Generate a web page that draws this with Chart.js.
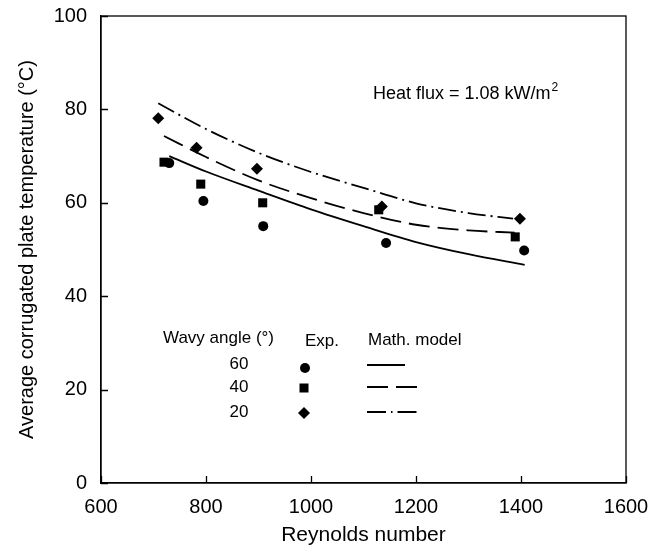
<!DOCTYPE html>
<html>
<head>
<meta charset="utf-8">
<script src="https://cdn.jsdelivr.net/npm/chart.js@4/dist/chart.umd.min.js"></script>
<style>
    html, body { margin: 0; padding: 0; background: #fff; }
    #wrap { width: 669px; height: 553px; }
</style>
</head>
<body>
<div id="wrap"><canvas id="chart" width="669" height="553"></canvas></div>
<script>
const reynolds60 = [730, 795, 909, 1143, 1406];
const temp60 = [68.5, 60.4, 55.0, 51.4, 49.8];
const reynolds40 = [720, 790, 908, 1129, 1389];
const temp40 = [68.7, 64.0, 60.0, 58.5, 52.7];
const reynolds20 = [709, 782, 897, 1135, 1398];
const temp20 = [78.1, 71.8, 67.3, 59.2, 56.6];

// Math. model curves
const modelRe60 = [730, 800, 900, 1000, 1100, 1200, 1300, 1407];
const model60 = [70.0, 66.7, 62.6, 58.6, 55.0, 51.6, 49.0, 46.7];
const modelRe40 = [720, 800, 900, 1000, 1100, 1200, 1300, 1388];
const model40 = [74.3, 69.8, 64.8, 61.0, 57.8, 55.3, 54.1, 53.6];
const modelRe20 = [709, 800, 900, 1000, 1100, 1200, 1300, 1385];
const model20 = [81.3, 75.8, 70.7, 66.6, 63.2, 59.9, 57.8, 56.6];

// Axis ticks
const xTicks = [600, 800, 1000, 1200, 1400, 1600];
const yTicks = [0, 20, 40, 60, 80, 100];

const FONT = '"Liberation Sans", Arial, sans-serif';

function toPoints(xs, ys) {
    return xs.map((x, i) => ({ x: x, y: ys[i] }));
}

function modelSet(xs, ys, dash) {
    return {
        type: 'line',
        data: toPoints(xs, ys),
        borderColor: '#000',
        borderWidth: 1.8,
        borderDash: dash,
        pointRadius: 0,
        cubicInterpolationMode: 'monotone',
        fill: false
    };
}

function expSet(xs, ys, style, radius) {
    return {
        type: 'scatter',
        data: toPoints(xs, ys),
        pointStyle: style,
        pointRadius: radius,
        pointBackgroundColor: '#000',
        pointBorderWidth: 0,
        showLine: false
    };
}

// Inward ticks, box frame and the text legend
const framePlugin = {
    id: 'frame',
    afterDraw(chart) {
        const ctx = chart.ctx;
        const a = chart.chartArea;
        const xs = chart.scales.x;
        const ys = chart.scales.y;
        ctx.save();
        ctx.strokeStyle = '#000';
        ctx.lineWidth = 1.3;
        ctx.strokeRect(a.left, a.top, a.right - a.left, a.bottom - a.top);
        ctx.beginPath();
        xTicks.forEach(v => {
            const px = Math.round(xs.getPixelForValue(v)) + 0.5;
            ctx.moveTo(px, a.bottom);
            ctx.lineTo(px, a.bottom - 7);
        });
        yTicks.forEach(v => {
            const py = Math.round(ys.getPixelForValue(v)) + 0.5;
            ctx.moveTo(a.left, py);
            ctx.lineTo(a.left + 7, py);
        });
        ctx.stroke();

        // Heat flux note
        ctx.fillStyle = '#000';
        ctx.textBaseline = 'alphabetic';
        ctx.textAlign = 'left';
        ctx.font = '18px ' + FONT;
        const note = 'Heat flux = 1.08 kW/m';
        ctx.fillText(note, 373, 99);
        const w = ctx.measureText(note).width;
        ctx.font = '12px ' + FONT;
        ctx.fillText('2', 373 + w + 1, 91);

        // Legend table
        ctx.font = '17px ' + FONT;
        ctx.fillText('Wavy angle (\u00B0)', 163, 343);
        ctx.fillText('Exp.', 305, 346);
        ctx.fillText('Math. model', 368, 345);
        ctx.textAlign = 'center';
        ctx.fillText('60', 239, 369);
        ctx.fillText('40', 239, 392);
        ctx.fillText('20', 239, 417);

        // legend markers
        ctx.beginPath();
        ctx.arc(305, 368, 5, 0, Math.PI * 2);
        ctx.fill();
        ctx.fillRect(299.5, 383.5, 9, 9);
        ctx.beginPath();
        ctx.moveTo(304, 407);
        ctx.lineTo(310, 413);
        ctx.lineTo(304, 419);
        ctx.lineTo(298, 413);
        ctx.closePath();
        ctx.fill();

        // legend line samples
        ctx.lineWidth = 1.8;
        const samples = [
            { y: 365, x2: 405, dash: [] },
            { y: 387, x2: 417, dash: [21, 8] },
            { y: 412, x2: 421, dash: [19, 5, 1.5, 5] }
        ];
        samples.forEach(s => {
            ctx.setLineDash(s.dash);
            ctx.beginPath();
            ctx.moveTo(367, s.y);
            ctx.lineTo(s.x2, s.y);
            ctx.stroke();
        });
        ctx.restore();
    }
};

new Chart(document.getElementById('chart').getContext('2d'), {
    data: {
        datasets: [
            modelSet(modelRe60, model60, []),
            modelSet(modelRe40, model40, [21, 8]),
            modelSet(modelRe20, model20, [18, 5, 2, 5]),
            expSet(reynolds60, temp60, 'circle', 5),
            expSet(reynolds40, temp40, 'rect', 6.4),
            expSet(reynolds20, temp20, 'rectRot', 6)
        ]
    },
    options: {
        responsive: false,
        animation: false,
        layout: { padding: { left: 0, top: 16, right: 43, bottom: 0 } },
        plugins: {
            legend: { display: false },
            tooltip: { enabled: false }
        },
        scales: {
            x: {
                type: 'linear',
                min: 600,
                max: 1600,
                afterBuildTicks: s => { s.ticks = xTicks.map(v => ({ value: v })); },
                afterFit: s => { s.height = 70; s.paddingLeft = 0; s.paddingRight = 0; },
                grid: { display: false, drawTicks: false },
                border: { display: true, color: '#000', width: 1.3 },
                ticks: {
                    color: '#000',
                    padding: 12,
                    font: { family: FONT, size: 20 },
                    maxRotation: 0,
                    callback: v => String(v)
                },
                title: {
                    display: true,
                    text: 'Reynolds number',
                    color: '#000',
                    font: { family: FONT, size: 21 },
                    padding: { top: 0, bottom: 5 }
                }
            },
            y: {
                type: 'linear',
                min: 0,
                max: 100,
                afterBuildTicks: s => { s.ticks = yTicks.map(v => ({ value: v })); },
                afterFit: s => { s.width = 101; s.paddingTop = 0; s.paddingBottom = 0; },
                grid: { display: false, drawTicks: false },
                border: { display: true, color: '#000', width: 1.3 },
                ticks: {
                    color: '#000',
                    padding: 14,
                    font: { family: FONT, size: 20 },
                    callback: v => String(v)
                },
                title: {
                    display: true,
                    text: 'Average corrugated plate temperature (\u00B0C)',
                    color: '#000',
                    font: { family: FONT, size: 20 },
                    padding: { top: 15, bottom: 0 }
                }
            }
        }
    },
    plugins: [framePlugin]
});
</script>
</body>
</html>
